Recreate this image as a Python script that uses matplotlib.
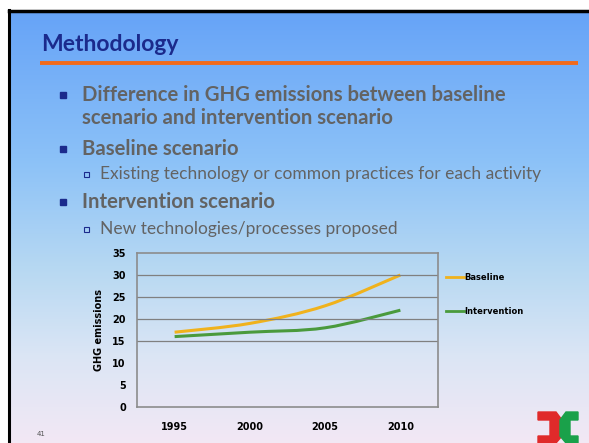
import numpy as np
import matplotlib
matplotlib.use("Agg")
import matplotlib.pyplot as plt
from matplotlib.path import Path
from matplotlib.patches import PathPatch, Rectangle, Polygon
from matplotlib.lines import Line2D

years = ["1995", "2000", "2005", "2010"]
baseline = [17, 19, 23, 30]
intervention = [16, 17, 18, 22]
series_names = ["Baseline", "Intervention"]
title = "Methodology"
# (level, text, has bullet)
bullets = [
    (0, "Difference in GHG emissions between baseline", True),
    (0, "scenario and intervention scenario", False),
    (0, "Baseline scenario", True),
    (1, "Existing technology or common practices for each activity", True),
    (0, "Intervention scenario", True),
    (1, "New technologies/processes proposed", True),
]

W, H = 589, 443
fig = plt.figure(figsize=(W / 100, H / 100), dpi=100)

# slide background (pixel coords)
bg = fig.add_axes([0, 0, 1, 1])
bg.set_xlim(0, W)
bg.set_ylim(H, 0)
bg.axis("off")
stops = np.array([0.0, 0.35, 0.6, 0.8, 1.0])
cols = np.array([
    [0.40, 0.64, 0.97],
    [0.55, 0.76, 0.97],
    [0.72, 0.85, 0.95],
    [0.86, 0.90, 0.96],
    [0.95, 0.91, 0.96],
])
t = np.linspace(0, 1, 300)
grad = np.stack([np.interp(t, stops, cols[:, i]) for i in range(3)], axis=1)
bg.imshow(grad[:, None, :], extent=[10, W, H, 11], aspect="auto", zorder=0)
bg.plot([9, 9], [10, H], color="black", lw=2.2, zorder=2)
bg.plot([9, W], [10.5, 10.5], color="black", lw=2.5, zorder=2)

# title and rule
bg.text(41, 51, title, fontsize=16.5, fontweight="bold", color="#1b2a8c",
        family="Lato", va="baseline")
bg.plot([40, 578], [63, 63], color="#f26a1b", lw=2.8, solid_capstyle="butt")

ys = [95, 118, 149, 174, 202, 229]
for (lvl, txt, mark), y in zip(bullets, ys):
    if lvl == 0:
        if mark:
            bg.add_patch(Rectangle((60, y - 3), 6, 6, color="#1b2a8c"))
        bg.text(82, y, txt, fontsize=14.6, fontweight="bold", color="#636363",
                family="Lato", va="center")
    else:
        bg.add_patch(Rectangle((84, y - 2.5), 5, 5, fill=False, ec="#1b2a8c", lw=0.8))
        bg.text(100, y, txt, fontsize=12.5, color="#636363", family="Lato", va="center")

bg.text(37, 434, "41", fontsize=5, color="#555555", va="center")

# logo
bg.add_patch(Polygon([[538, 412], [556, 412], [562, 420], [562, 436], [556, 443],
                      [538, 443], [538, 436], [550, 436], [550, 420], [538, 420]],
                     color="#e02a2a"))
bg.add_patch(Polygon([[578, 412], [566, 412], [560, 420], [560, 436], [566, 443],
                      [578, 443], [578, 436], [570, 436], [570, 420], [578, 420]],
                     color="#1aa14a"))

# chart
ax = fig.add_axes([137 / W, 1 - 407 / H, 301 / W, 154 / H])
ax.patch.set_alpha(0)
x = np.arange(len(years))


def smooth_path(xs, ys, k=1 / 6):
    verts = [(xs[0], ys[0])]
    codes = [Path.MOVETO]
    n = len(xs)
    for i in range(n - 1):
        p0 = (xs[max(i - 1, 0)], ys[max(i - 1, 0)])
        p1 = (xs[i], ys[i])
        p2 = (xs[i + 1], ys[i + 1])
        p3 = (xs[min(i + 2, n - 1)], ys[min(i + 2, n - 1)])
        c1 = (p1[0] + (p2[0] - p0[0]) * k, p1[1] + (p2[1] - p0[1]) * k)
        c2 = (p2[0] - (p3[0] - p1[0]) * k, p2[1] - (p3[1] - p1[1]) * k)
        verts += [c1, c2, p2]
        codes += [Path.CURVE4] * 3
    return Path(verts, codes)


colors = ["#f0b21c", "#4a9a3c"]
handles = []
for vals, c in zip([baseline, intervention], colors):
    ax.add_patch(PathPatch(smooth_path(x, vals), fill=False, ec=c, lw=2.2))
    handles.append(Line2D([], [], color=c, lw=2))

ax.set_xlim(-0.5, len(years) - 0.5)
ax.set_ylim(0, 35)
ax.set_yticks(range(0, 36, 5))
ax.set_xticks(x)
ax.set_xticklabels(years)
ax.tick_params(length=0, labelsize=7, pad=11)
ax.tick_params(axis="y", pad=8)
for lb in ax.get_xticklabels() + ax.get_yticklabels():
    lb.set_fontweight("bold")
for v in [15, 20, 25, 30]:
    ax.axhline(v, color="#808080", lw=0.9)
for s in ax.spines.values():
    s.set_color("#8c8c8c")
    s.set_linewidth(1.2)
ax.set_ylabel("GHG emissions", fontsize=7, fontweight="bold", labelpad=6)

ax.legend(handles, series_names, loc="upper left", bbox_to_anchor=(1.0, 0.92),
          frameon=False, handlelength=2.2, labelspacing=3.0, handletextpad=0.1,
          prop={"weight": "bold", "size": 6})

fig.savefig("out.png", dpi=100)
